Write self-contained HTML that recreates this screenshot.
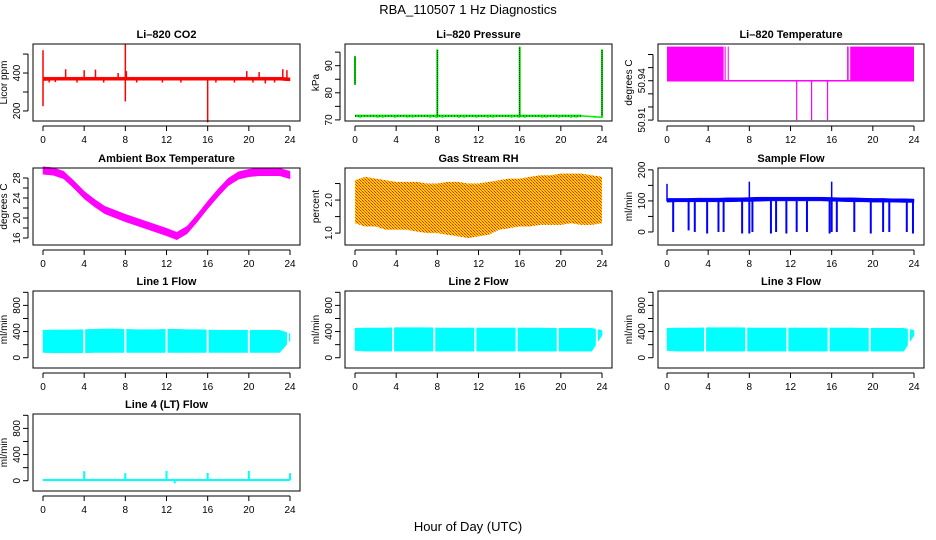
<!DOCTYPE html>
<html><head><meta charset="utf-8"><style>
html,body{margin:0;padding:0;background:#fff;}
svg{display:block;font-family:"Liberation Sans",sans-serif;}
</style></head><body>
<svg id="c" width="936" height="540" xmlns="http://www.w3.org/2000/svg">
<defs>
<pattern id="rh" width="3" height="3" patternUnits="userSpaceOnUse"><rect width="3" height="3" fill="#ffd000"/><rect x="0" y="0" width="1" height="1" fill="#ff2000"/><rect x="1" y="1" width="1" height="1" fill="#ff6000"/><rect x="2" y="2" width="1" height="1" fill="#ff2000"/></pattern>
</defs>
<text x="468" y="14" text-anchor="middle" font-size="13">RBA_110507  1 Hz Diagnostics</text>
<text x="468" y="531" text-anchor="middle" font-size="13">Hour of Day (UTC)</text>
</svg>
<script>
// ---- data ----
const hours = [0,1,2,3,4,5,6,7,8,9,10,11,12,13,14,15,16,17,18,19,20,21,22,23,24];
const xTicks = [0,4,8,12,16,20,24];
// CO2
const co2Lo = [360,362,362,362,362,362,362,362,362,362,362,362,362,362,362,362,362,362,362,362,362,362,362,362,358];
const co2Hi = [378,378,378,378,378,378,378,378,378,378,378,378,378,378,378,378,378,378,378,378,378,378,378,378,375];
const co2SpikeT = [0,0,8,8,16,2.2,4,5.1,7.3,8.1,19.8,21,23.3,23.7,0.6,1.2,3.3,5.9,9.1,11.6,13.4,16.8,18.6,20.4,21.6,22.5];
const co2SpikeV = [520,225,555,250,140,420,415,418,400,410,410,405,420,415,350,352,350,350,350,350,350,350,350,350,345,350];
// Pressure
const presT = [0,8,16,24];
const presLo = [83,71,71,71];
const presHi = [93.5,96,97,96];
const presDipT = [0.5,2.2,2.7,3.9,5.1,5.6,7.3,7.9,8.5,10.1,10.6,11.8,12.9,13.4,15.2,15.9,16.5,18.2,18.6,19.8,21,21.5,23.3,24];
// Li-820 temperature
const tempBandStart = [0,5.6,5.9,17.5,17.8];
const tempBandEnd = [5.5,5.7,6.0,17.65,24];
const tempBandLo = [50.94,50.94,50.94,50.94,50.94];
const tempBandHi = [50.966,50.966,50.966,50.966,50.966];
const tempDipT = [12.6,14.05,15.6];
const tempDipV = [50.91,50.91,50.91];
// Ambient box temperature
const ambMid = [29.5,29.3,28.6,26.7,24.6,23,21.6,20.8,20,19.3,18.6,17.9,17.2,16.4,17.6,20,22.6,25,27.2,28.5,29,29.2,29.2,29.2,28.6];
// Gas stream RH
const rhLo = [1.3,1.2,1.2,1.1,1.1,1.1,1.05,1.0,1.0,0.95,0.9,0.85,0.9,0.95,1.1,1.15,1.2,1.2,1.25,1.25,1.25,1.3,1.25,1.25,1.3];
const rhHi = [2.6,2.7,2.65,2.6,2.55,2.55,2.55,2.5,2.5,2.55,2.55,2.5,2.5,2.55,2.6,2.65,2.65,2.7,2.75,2.75,2.8,2.8,2.8,2.75,2.7];
// Sample flow
const sfLo = [96,97,97,97,97,97,97,98,98,99,100,100,100,100,100,100,99,98,97,97,96,96,96,95,95];
const sfHi = [108,108,108,109,109,109,110,110,111,112,112,112,112,112,112,112,111,110,110,109,108,108,107,107,106];
const sfDipT = [0.6,2.1,2.7,3.9,5.0,5.5,7.3,8.0,8.3,10.1,10.6,11.6,12.6,13.6,15.8,16.0,16.5,18.2,19.8,21.0,21.6,23.3,23.9];
const sfDipV = [0,5,0,-5,0,0,-5,-5,0,-5,0,-5,0,0,-5,0,0,0,-5,0,0,0,-5];
const sfSpikeT = [0,8,16];
const sfSpikeV = [155,162,162];
// Line flows
const l1Lo = [80,75,75,75,75,80,80,80,80,80,80,80,80,80,80,80,80,80,80,80,80,80,80,80,260];
const l1Hi = [420,425,425,425,430,435,440,440,435,430,430,430,435,435,430,430,425,420,420,420,420,420,420,420,370];
const l2Lo = [110,100,100,100,100,100,100,100,100,100,100,100,100,100,100,100,100,100,100,100,100,100,100,100,340];
const l2Hi = [450,455,455,455,460,460,460,460,455,455,455,455,455,455,455,455,455,455,455,450,450,450,450,450,420];
const l3Lo = [110,100,100,100,100,100,100,100,100,100,100,100,100,100,100,100,100,100,100,100,100,100,100,100,340];
const l3Hi = [450,455,455,455,460,460,460,460,455,455,455,455,455,455,455,455,455,455,455,450,450,450,450,450,420];
const flowGapT = [4,8,12,16,20,23.8];
const l4Lo = [0,0,0,0,0,0,0,0,0,0,0,0,0,0,0,0,0,0,0,0,0,0,0,0,0];
const l4Hi = [22,22,22,22,22,22,22,22,22,22,22,22,22,22,22,22,22,22,22,22,22,22,22,22,22];
const l4SpikeT = [4,8,12,16,20,24,12.8];
const l4SpikeV = [145,115,150,120,150,115,-40];

// ---- layout ----
const NS="http://www.w3.org/2000/svg";
const svg=document.getElementById('c');
const cols=[{x0:33,x1:300,a:43,b:290},{x0:345,x1:612,a:355,b:602},{x0:658,x1:924,a:667,b:914}];
const rows=[44,168,291,414]; const H=77;
function el(tag,attrs,parent){const e=document.createElementNS(NS,tag);for(const k in attrs)e.setAttribute(k,attrs[k]);(parent||svg).appendChild(e);return e;}
function panel(name,title,ylab,col,row,ymin,ymax,ticks,labels){
  const c=cols[col],top=rows[row],bot=top+H;
  const g=el('g',{});
  
  
  const xs=t=>c.a+(c.b-c.a)*t/24;
  const ys=v=>bot-(v-ymin)/(ymax-ymin)*H;
  const data=el('g',{},g);
  
  
  const box=el('rect',{x:c.x0,y:top,width:c.x1-c.x0,height:H,fill:'none',stroke:'#000','stroke-width':1},g);
  
  
  const t=el('text',{x:(c.x0+c.x1)/2,y:top-6,'text-anchor':'middle','font-size':11,'font-weight':'bold'},g);
  t.textContent=title;
  
  
  const xa=el('g',{},g);
  
  
  el('line',{x1:xs(0),x2:xs(24),y1:bot+5,y2:bot+5,stroke:'#000'},xa);
  xTicks.forEach(v=>{el('line',{x1:xs(v),x2:xs(v),y1:bot+5,y2:bot+10,stroke:'#000'},xa);
    const tt=el('text',{x:xs(v),y:bot+22,'text-anchor':'middle','font-size':10},xa);tt.textContent=v;});
  const ya=el('g',{},g);
  
  
  const ax=c.x0-5;
  el('line',{x1:ax,x2:ax,y1:ys(ticks[0]),y2:ys(ticks[ticks.length-1]),stroke:'#000'},ya);
  ticks.forEach(v=>el('line',{x1:ax-5,x2:ax,y1:ys(v),y2:ys(v),stroke:'#000'},ya));
  labels.forEach(v=>{const tt=el('text',{transform:`translate(${ax-8},${ys(v)}) rotate(-90)`,'text-anchor':'middle','font-size':10},ya);tt.textContent=v;});
  const yl=el('text',{transform:`translate(${ax-21},${(top+bot)/2}) rotate(-90)`,'text-anchor':'middle','font-size':10},g);
  yl.textContent=ylab;
  
  
  return {xs,ys,g:data};
}
function band(p,lo,hi,fill,gaps){
  let d='';
  for(let i=0;i<hours.length-1;i++){
    const x0=p.xs(hours[i]),x1=p.xs(hours[i+1]);
    d+=`M${x0},${p.ys(hi[i])}L${x1},${p.ys(hi[i+1])}L${x1},${p.ys(lo[i+1])}L${x0},${p.ys(lo[i])}Z`;
  }
  const e=el('path',{d:d,fill:fill,stroke:fill==='url(#rh)'?'none':fill,'stroke-width':0.5},p.g);
  
  
  (gaps||[]).forEach(t=>{const r=el('rect',{x:p.xs(t)-1,y:p.ys(1000),width:2,height:p.ys(-60)-p.ys(1000),fill:'#fff'},p.g);
    
    });
}
function spikes(p,ts,vs,base,color,w){
  ts.forEach((t,i)=>{const l=el('line',{x1:p.xs(t),x2:p.xs(t),y1:p.ys(base),y2:p.ys(vs[i]),stroke:color,'stroke-width':w||1.5},p.g);
    
    });
}

// CO2
let p=panel('co2','Li\u2013820 CO2','Licor ppm',0,0,147,553,[200,300,400,500],[200,400]);
band(p,co2Lo,co2Hi,'#ff0000');
spikes(p,co2SpikeT,co2SpikeV,370,'#ff0000',1.5);
// Pressure
p=panel('pressure','Li\u2013820 Pressure','kPa',1,0,69.6,98,[70,75,80,85,90,95],[70,80,90]);
el('line',{x1:p.xs(0),x2:p.xs(22),y1:p.ys(71.5),y2:p.ys(71.5),stroke:'#00ee00','stroke-width':2.5},p.g);
el('line',{x1:p.xs(0),x2:p.xs(22),y1:p.ys(71.5),y2:p.ys(71.5),stroke:'#000','stroke-width':1,'stroke-dasharray':'1,2'},p.g);
el('line',{x1:p.xs(22),x2:p.xs(24),y1:p.ys(71.5),y2:p.ys(71.0),stroke:'#00ee00','stroke-width':1.5},p.g);
presT.forEach((t,i)=>{el('line',{x1:p.xs(t),x2:p.xs(t),y1:p.ys(presLo[i]),y2:p.ys(presHi[i]),stroke:'#00ee00','stroke-width':2},p.g);
  el('line',{x1:p.xs(t),x2:p.xs(t),y1:p.ys(presLo[i]),y2:p.ys(presHi[i]),stroke:'#000','stroke-width':1,'stroke-dasharray':'1,1'},p.g);});
spikes(p,presDipT,presDipT.map(()=>70.8),71.5,'#00ee00',2);
// Li-820 temperature
p=panel('li820-temp','Li\u2013820 Temperature','degrees C',2,0,50.9093,50.968,[50.91,50.92,50.93,50.94,50.95,50.96],[50.91,50.94]);
tempBandStart.forEach((s,i)=>{const r=el('rect',{x:p.xs(s),y:p.ys(tempBandHi[i]),width:Math.max(1,p.xs(tempBandEnd[i])-p.xs(s)),height:p.ys(tempBandLo[i])-p.ys(tempBandHi[i]),fill:'#ff00ff'},p.g);
  
  });
el('line',{x1:p.xs(0),x2:p.xs(24),y1:p.ys(50.94),y2:p.ys(50.94),stroke:'#ff00ff','stroke-width':1.5},p.g);
spikes(p,tempDipT,tempDipV,50.94,'#ff00ff',1.2);
// Ambient
p=panel('ambient-temp','Ambient Box Temperature','degrees C',0,1,14.6,30.0,[16,18,20,22,24,26,28],[16,20,24,28]);
band(p,ambMid.map(v=>v-0.75),ambMid.map(v=>v+0.75),'#ff00ff');
// RH
p=panel('gas-rh','Gas Stream RH','percent',1,1,0.64,2.97,[1.0,1.5,2.0,2.5],['1.0','2.0']);
band(p,rhLo,rhHi,'url(#rh)');
// Sample flow
p=panel('sample-flow','Sample Flow','ml/min',2,1,-42,206,[0,50,100,150,200],[0,100,200]);
band(p,sfLo,sfHi,'#0000ff');
spikes(p,sfDipT,sfDipV,100,'#0000ff',2);
spikes(p,sfSpikeT,sfSpikeV,100,'#0000ff',1.5);
// Line flows
const fT=[0,200,400,600,800,1000],fL=[0,400,800];
p=panel('line1-flow','Line 1 Flow','ml/min',0,2,-157,1020,fT,fL);
band(p,l1Lo,l1Hi,'#00ffff',flowGapT);
p=panel('line2-flow','Line 2 Flow','ml/min',1,2,-157,1020,fT,fL);
band(p,l2Lo,l2Hi,'#00ffff',flowGapT.map(t=>t-0.3));
p=panel('line3-flow','Line 3 Flow','ml/min',2,2,-157,1020,fT,fL);
band(p,l3Lo,l3Hi,'#00ffff',flowGapT.map(t=>t-0.3));
p=panel('line4-flow','Line 4 (LT) Flow','ml/min',0,3,-157,1020,fT,fL);
band(p,l4Lo,l4Hi,'#00ffff');
spikes(p,l4SpikeT,l4SpikeV,10,'#00ffff',2);
</script>
</body></html>
